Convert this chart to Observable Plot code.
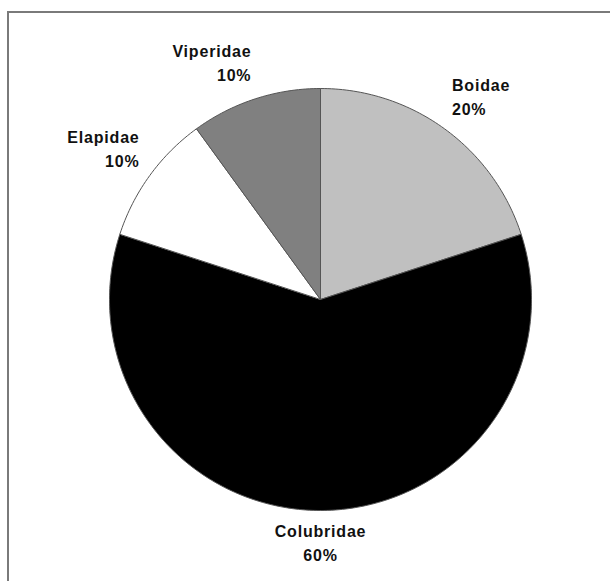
<!DOCTYPE html>
<html>
<head>
<meta charset="utf-8">
<script src="https://cdn.jsdelivr.net/npm/d3@7"></script>
<script src="https://cdn.jsdelivr.net/npm/@observablehq/plot@0.6"></script>
<style>
  html, body { margin: 0; padding: 0; background: #fff; overflow: hidden; }
  #wrap { position: relative; width: 610px; height: 581px; }
  #frame { position: absolute; left: 7px; top: 11px; width: 800px; height: 800px;
           border-top: 2px solid #7a7a7a; border-left: 2px solid #7a7a7a; pointer-events: none; }
  #chart { position: absolute; left: 0; top: 0; }
</style>
</head>
<body>
<div id="wrap"><div id="chart"></div><div id="frame"></div></div>
<script>
const families = ["Boidae", "Colubridae", "Elapidae", "Viperidae"];
const shares = [20, 60, 10, 10];
const sliceColors = ["#c0c0c0", "#000000", "#ffffff", "#808080"];

const rows = families.map((name, i) => ({name, value: shares[i]}));
const arcs = d3.pie().sort(null).value(d => d.value)(rows);

// polygon points for each slice (center + arc), unit circle, angle 0 at top, clockwise
const pts = [];
for (const a of arcs) {
  const name = a.data.name;
  pts.push({name, x: 0, y: 0});
  const n = Math.max(2, Math.ceil((a.endAngle - a.startAngle) / (Math.PI / 180)));
  for (let k = 0; k <= n; k++) {
    const t = a.startAngle + (a.endAngle - a.startAngle) * k / n;
    pts.push({name, x: Math.sin(t), y: Math.cos(t)});
  }
  pts.push({name, x: 0, y: 0});
}

const labels = arcs.map(a => {
  const m = (a.startAngle + a.endAngle) / 2;
  const s = Math.sin(m), c = Math.cos(m);
  return {
    text: a.data.name + "\n" + a.data.value + "%",
    x: 1.06 * s,
    y: 1.06 * c + (c > 0 ? 0.03 * c * c * c : 0),
    h: s > 0.1 ? "start" : s < -0.1 ? "end" : "middle",
    v: c > 0 ? "bottom" : "top"
  };
});

const textOpts = (h, v) => ({
  x: "x", y: "y", text: "text",
  textAnchor: h, lineAnchor: v, lineHeight: 1.5,
  dy: v === "bottom" ? 0 : -3,
  fontSize: 16, fontWeight: "bold", fill: "#111",
  fontFamily: "Liberation Sans, Arial, sans-serif"
});

const groups = [];
for (const h of ["start", "end", "middle"]) for (const v of ["top", "bottom"]) {
  const sub = labels.filter(l => l.h === h && l.v === v);
  if (sub.length) groups.push(Plot.text(sub, textOpts(h, v)));
}

const chart = Plot.plot({
  width: 610, height: 581,
  marginLeft: 109, marginRight: 79, marginTop: 88, marginBottom: 71,
  x: {domain: [-1, 1], axis: null},
  y: {domain: [-1, 1], axis: null},
  color: {domain: families, range: sliceColors},
  style: {background: "transparent"},
  marks: [
    Plot.line(pts, {x: "x", y: "y", z: "name", fill: "name", stroke: "#555", strokeWidth: 1, strokeLinejoin: "round"}),
    ...groups
  ]
});
chart.style.letterSpacing = "0.8px";
document.getElementById("chart").appendChild(chart);
</script>
</body>
</html>
